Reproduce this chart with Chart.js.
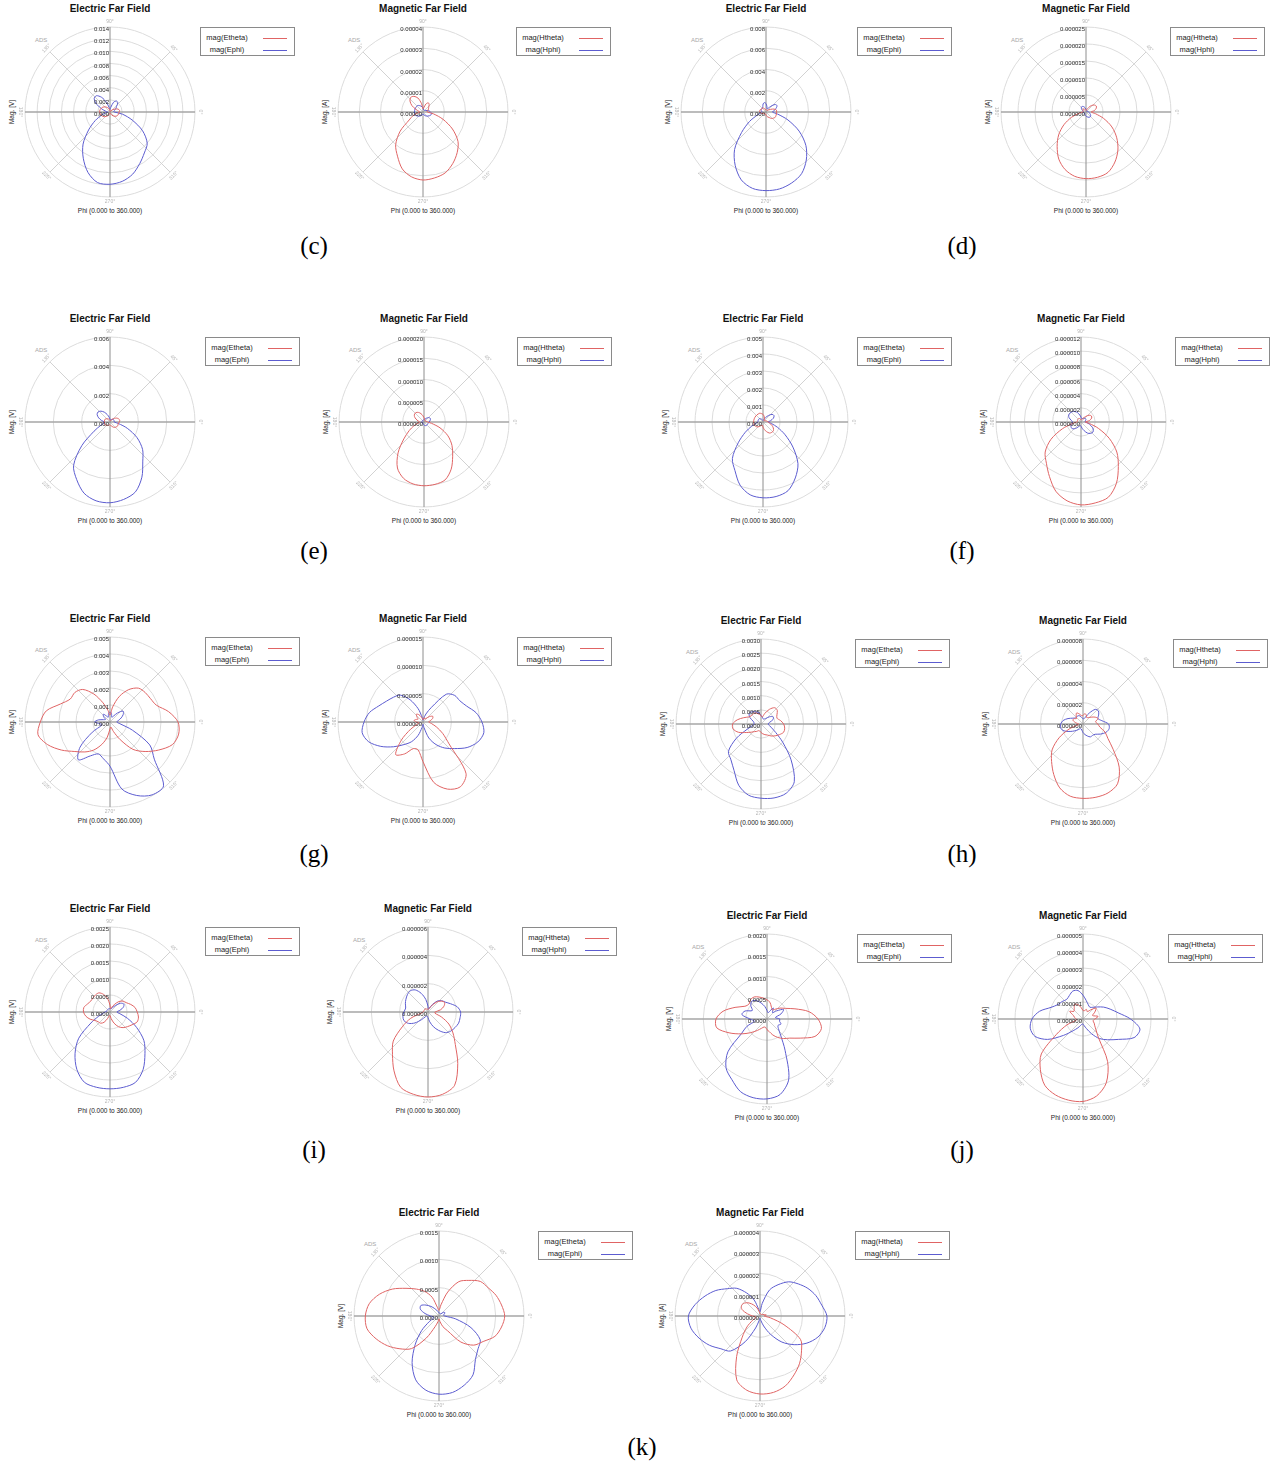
<!DOCTYPE html>
<html>
<head>
<meta charset="utf-8">
<script src="https://cdn.jsdelivr.net/npm/chart.js@4.4.0/dist/chart.umd.min.js"></script>
<style>
html,body{margin:0;padding:0;background:#fff;}
#page{position:relative;width:1275px;height:1464px;overflow:hidden;font-family:"Liberation Sans",Arial,sans-serif;}
.ttl{position:absolute;width:200px;text-align:center;font-weight:bold;font-size:10px;color:#111;line-height:12px;}
.xl{position:absolute;width:160px;text-align:center;font-size:6.5px;color:#222;line-height:8px;}
.yl{position:absolute;width:40px;text-align:center;font-size:6.5px;color:#222;line-height:8px;white-space:nowrap;transform:rotate(-90deg);}
.ads{position:absolute;font-size:6px;color:#a8a8a8;line-height:7px;}
.leg{position:absolute;width:93px;height:27px;border:1px solid #8a8a8a;background:#fff;}
.leg .t{position:absolute;left:1px;width:50px;text-align:center;font-size:7.5px;color:#222;line-height:9px;}
.leg .s{position:absolute;left:62px;width:24px;height:1px;}
.cap{position:absolute;width:60px;text-align:center;font-family:"Liberation Serif","Times New Roman",serif;font-size:25px;line-height:28px;color:#000;}
canvas{position:absolute;}
</style>
</head>
<body>
<div id="page"></div>
<script>
// Far-field magnitudes sampled every 10 degrees of phi (0, 10, ..., 350)
const PHI_DEG = [0,10,20,30,40,50,60,70,80,90,100,110,120,130,140,150,160,170,180,190,200,210,220,230,240,250,260,270,280,290,300,310,320,330,340,350];

// (c)
const cE_theta = [1.5e-3,1.6e-3,1.4e-3,1.0e-3,0.6e-3,0.3e-3,0.15e-3,0.1e-3,0.1e-3,0.15e-3,0.35e-3,0.6e-3,0.85e-3,1.1e-3,1.3e-3,1.5e-3,1.6e-3,1.7e-3,1.7e-3,1.65e-3,1.55e-3,1.4e-3,1.2e-3,0.95e-3,0.7e-3,0.45e-3,0.25e-3,0.15e-3,0.2e-3,0.35e-3,0.6e-3,0.85e-3,1.1e-3,1.3e-3,1.4e-3,1.45e-3];
const cE_phi = [0.7e-3,0.6e-3,0.8e-3,1.1e-3,1.4e-3,2.0e-3,2.1e-3,1.7e-3,0.8e-3,0.4e-3,0.7e-3,1.7e-3,2.8e-3,3.5e-3,3.4e-3,2.5e-3,1.4e-3,0.7e-3,0.4e-3,0.7e-3,1.4e-3,2.8e-3,4.6e-3,6.9e-3,8.8e-3,10.6e-3,11.8e-3,11.9e-3,11.6e-3,10.9e-3,9.8e-3,8.8e-3,8.0e-3,6.2e-3,3.9e-3,2.1e-3];
const cM_theta = [0.2e-5,0.2e-5,0.25e-5,0.3e-5,0.35e-5,0.45e-5,0.5e-5,0.4e-5,0.2e-5,0.15e-5,0.4e-5,0.7e-5,0.85e-5,0.9e-5,0.8e-5,0.6e-5,0.35e-5,0.2e-5,0.15e-5,0.25e-5,0.5e-5,0.75e-5,1.4e-5,2.0e-5,2.4e-5,2.85e-5,3.1e-5,3.2e-5,3.15e-5,3.05e-5,2.8e-5,2.5e-5,2.15e-5,1.6e-5,1.0e-5,0.5e-5];
const cM_phi = [0.35e-5,0.3e-5,0.2e-5,0.15e-5,0.1e-5,0.1e-5,0.1e-5,0.1e-5,0.15e-5,0.2e-5,0.25e-5,0.3e-5,0.35e-5,0.4e-5,0.4e-5,0.4e-5,0.4e-5,0.4e-5,0.4e-5,0.4e-5,0.4e-5,0.35e-5,0.3e-5,0.25e-5,0.2e-5,0.15e-5,0.1e-5,0.1e-5,0.1e-5,0.15e-5,0.2e-5,0.25e-5,0.3e-5,0.35e-5,0.4e-5,0.4e-5];

// (d)
const dE_theta = [1.0e-3,1.0e-3,0.8e-3,0.5e-3,0.3e-3,0.2e-3,0.2e-3,0.2e-3,0.2e-3,0.2e-3,0.2e-3,0.3e-3,0.4e-3,0.5e-3,0.5e-3,0.5e-3,0.6e-3,0.6e-3,0.6e-3,0.5e-3,0.4e-3,0.3e-3,0.2e-3,0.2e-3,0.2e-3,0.2e-3,0.2e-3,0.3e-3,0.4e-3,0.5e-3,0.6e-3,0.8e-3,0.9e-3,1.0e-3,1.0e-3,1.0e-3];
const dE_phi = [0.6e-3,0.8e-3,1.0e-3,1.2e-3,1.1e-3,0.7e-3,0.4e-3,0.3e-3,0.5e-3,0.8e-3,0.9e-3,0.8e-3,0.6e-3,0.5e-3,0.5e-3,0.5e-3,0.5e-3,0.4e-3,0.4e-3,0.5e-3,0.9e-3,1.8e-3,3.0e-3,4.6e-3,5.8e-3,6.8e-3,7.3e-3,7.4e-3,7.35e-3,7.1e-3,6.7e-3,5.9e-3,4.9e-3,3.6e-3,2.2e-3,1.1e-3];
const dM_theta = [1.5e-6,2.5e-6,3.2e-6,3.5e-6,3.2e-6,2.5e-6,1.5e-6,0.8e-6,0.5e-6,0.5e-6,0.6e-6,0.8e-6,1.0e-6,1.2e-6,1.2e-6,1.0e-6,0.8e-6,0.8e-6,1.0e-6,2.0e-6,4.5e-6,7.5e-6,10.5e-6,13.2e-6,16.0e-6,18.0e-6,19.2e-6,19.6e-6,19.5e-6,18.9e-6,17.0e-6,14.6e-6,11.8e-6,8.8e-6,5.5e-6,2.8e-6];
const dM_phi = [0.8e-6,0.6e-6,0.4e-6,0.3e-6,0.3e-6,0.4e-6,0.5e-6,0.5e-6,0.6e-6,0.8e-6,1.2e-6,1.6e-6,1.9e-6,2.0e-6,1.8e-6,1.4e-6,1.0e-6,0.8e-6,0.8e-6,0.8e-6,0.7e-6,0.6e-6,0.5e-6,0.5e-6,0.6e-6,0.8e-6,1.0e-6,1.2e-6,1.4e-6,1.6e-6,1.8e-6,1.9e-6,1.8e-6,1.5e-6,1.2e-6,1.0e-6];

// (e)
const eE_theta = [0.65e-3,0.7e-3,0.65e-3,0.55e-3,0.4e-3,0.25e-3,0.15e-3,0.1e-3,0.1e-3,0.1e-3,0.15e-3,0.2e-3,0.25e-3,0.3e-3,0.35e-3,0.4e-3,0.4e-3,0.4e-3,0.4e-3,0.4e-3,0.4e-3,0.4e-3,0.35e-3,0.3e-3,0.3e-3,0.25e-3,0.2e-3,0.2e-3,0.25e-3,0.3e-3,0.4e-3,0.5e-3,0.55e-3,0.6e-3,0.6e-3,0.6e-3];
const eE_phi = [0.3e-3,0.3e-3,0.3e-3,0.3e-3,0.3e-3,0.25e-3,0.2e-3,0.15e-3,0.15e-3,0.2e-3,0.35e-3,0.55e-3,0.8e-3,1.0e-3,1.1e-3,1.05e-3,0.85e-3,0.6e-3,0.4e-3,0.4e-3,0.7e-3,1.3e-3,2.6e-3,4.0e-3,4.7e-3,5.35e-3,5.65e-3,5.7e-3,5.55e-3,5.25e-3,4.5e-3,3.6e-3,3.0e-3,2.2e-3,1.3e-3,0.6e-3];
const eM_theta = [0.8e-6,0.7e-6,0.5e-6,0.4e-6,0.3e-6,0.3e-6,0.4e-6,0.5e-6,0.7e-6,1.0e-6,1.5e-6,2.1e-6,2.6e-6,2.9e-6,2.9e-6,2.6e-6,2.0e-6,1.4e-6,1.0e-6,1.3e-6,2.5e-6,4.0e-6,6.2e-6,9.5e-6,12.5e-6,14.1e-6,14.8e-6,15.0e-6,14.9e-6,14.5e-6,12.8e-6,10.5e-6,8.6e-6,6.5e-6,4.0e-6,1.8e-6];
const eM_phi = [1.2e-6,1.4e-6,1.6e-6,1.7e-6,1.6e-6,1.3e-6,1.0e-6,0.7e-6,0.5e-6,0.5e-6,0.5e-6,0.5e-6,0.5e-6,0.5e-6,0.5e-6,0.5e-6,0.5e-6,0.5e-6,0.5e-6,0.5e-6,0.4e-6,0.3e-6,0.3e-6,0.3e-6,0.4e-6,0.5e-6,0.6e-6,0.7e-6,0.8e-6,0.9e-6,1.0e-6,1.0e-6,1.0e-6,1.0e-6,1.0e-6,1.1e-6];

// (f)
const fE_theta = [0.3e-3,0.25e-3,0.2e-3,0.15e-3,0.1e-3,0.1e-3,0.15e-3,0.25e-3,0.35e-3,0.45e-3,0.5e-3,0.55e-3,0.55e-3,0.55e-3,0.55e-3,0.55e-3,0.55e-3,0.55e-3,0.55e-3,0.55e-3,0.55e-3,0.5e-3,0.45e-3,0.35e-3,0.25e-3,0.2e-3,0.2e-3,0.3e-3,0.45e-3,0.6e-3,0.75e-3,0.8e-3,0.8e-3,0.7e-3,0.55e-3,0.4e-3];
const fE_phi = [0.3e-3,0.45e-3,0.65e-3,0.75e-3,0.7e-3,0.5e-3,0.3e-3,0.15e-3,0.1e-3,0.1e-3,0.1e-3,0.15e-3,0.2e-3,0.25e-3,0.3e-3,0.3e-3,0.3e-3,0.3e-3,0.3e-3,0.4e-3,0.7e-3,1.2e-3,1.9e-3,2.8e-3,3.3e-3,3.95e-3,4.35e-3,4.46e-3,4.45e-3,4.3e-3,3.8e-3,3.2e-3,2.3e-3,1.5e-3,0.9e-3,0.5e-3];
const fM_theta = [0.6e-6,1.2e-6,1.6e-6,1.7e-6,1.5e-6,1.0e-6,0.6e-6,0.4e-6,0.3e-6,0.3e-6,0.4e-6,0.5e-6,0.6e-6,0.6e-6,0.6e-6,0.6e-6,0.5e-6,0.5e-6,0.6e-6,1.2e-6,2.8e-6,4.9e-6,6.6e-6,7.6e-6,8.9e-6,10.4e-6,11.3e-6,11.7e-6,11.6e-6,11.3e-6,10.0e-6,8.2e-6,6.6e-6,4.6e-6,2.6e-6,1.2e-6];
const fM_phi = [0.6e-6,0.6e-6,0.7e-6,0.8e-6,0.8e-6,0.7e-6,0.6e-6,0.5e-6,0.5e-6,0.7e-6,1.0e-6,1.4e-6,1.7e-6,1.9e-6,2.0e-6,2.0e-6,1.8e-6,1.4e-6,1.2e-6,1.3e-6,1.5e-6,1.6e-6,1.5e-6,1.2e-6,0.8e-6,0.6e-6,0.5e-6,0.6e-6,0.9e-6,1.3e-6,1.8e-6,2.1e-6,2.2e-6,2.0e-6,1.5e-6,1.0e-6];

// (g)
const gE_theta = [4.0e-3,3.5e-3,2.9e-3,2.75e-3,2.7e-3,2.6e-3,2.2e-3,1.6e-3,0.9e-3,0.4e-3,0.7e-3,1.2e-3,1.9e-3,2.5e-3,2.7e-3,2.7e-3,3.1e-3,3.8e-3,4.1e-3,4.3e-3,3.9e-3,3.3e-3,2.7e-3,2.3e-3,1.9e-3,1.4e-3,0.9e-3,0.4e-3,0.3e-3,0.6e-3,1.2e-3,2.1e-3,2.7e-3,3.3e-3,3.9e-3,4.1e-3];
const gE_phi = [0.4e-3,0.5e-3,0.7e-3,0.9e-3,1.0e-3,0.7e-3,0.4e-3,0.3e-3,0.5e-3,0.6e-3,0.5e-3,0.3e-3,0.4e-3,0.6e-3,0.5e-3,0.3e-3,0.4e-3,0.7e-3,0.9e-3,0.6e-3,0.5e-3,1.2e-3,2.3e-3,2.9e-3,2.3e-3,2.0e-3,2.2e-3,2.6e-3,4.0e-3,4.6e-3,4.95e-3,4.9e-3,3.4e-3,2.7e-3,1.4e-3,0.6e-3];
const gM_theta = [1.0e-6,1.3e-6,1.8e-6,2.0e-6,1.5e-6,0.8e-6,0.6e-6,0.8e-6,0.6e-6,0.4e-6,0.6e-6,1.0e-6,1.5e-6,1.8e-6,1.4e-6,1.0e-6,1.3e-6,1.6e-6,1.2e-6,0.7e-6,1.0e-6,2.5e-6,5.0e-6,7.5e-6,6.5e-6,5.0e-6,5.0e-6,7.0e-6,10.8e-6,12.6e-6,13.2e-6,11.8e-6,6.0e-6,4.0e-6,2.5e-6,1.5e-6];
const gM_phi = [10.4e-6,9.5e-6,8.2e-6,7.5e-6,7.3e-6,6.4e-6,3.0e-6,1.5e-6,0.6e-6,0.3e-6,0.8e-6,2.5e-6,4.5e-6,6.2e-6,6.8e-6,7.4e-6,8.3e-6,9.6e-6,10.4e-6,10.9e-6,10.2e-6,8.6e-6,6.8e-6,5.2e-6,4.0e-6,2.5e-6,1.0e-6,0.4e-6,1.0e-6,3.0e-6,4.6e-6,6.0e-6,7.3e-6,9.0e-6,10.3e-6,10.9e-6];

// (h)
const hE_theta = [0.8e-3,0.7e-3,0.6e-3,0.65e-3,0.75e-3,0.75e-3,0.6e-3,0.4e-3,0.25e-3,0.3e-3,0.35e-3,0.4e-3,0.45e-3,0.45e-3,0.45e-3,0.5e-3,0.65e-3,0.85e-3,1.0e-3,1.0e-3,0.85e-3,0.6e-3,0.45e-3,0.35e-3,0.3e-3,0.25e-3,0.25e-3,0.3e-3,0.35e-3,0.4e-3,0.45e-3,0.55e-3,0.65e-3,0.75e-3,0.85e-3,0.85e-3];
const hE_phi = [0.25e-3,0.3e-3,0.45e-3,0.5e-3,0.4e-3,0.25e-3,0.2e-3,0.2e-3,0.25e-3,0.3e-3,0.4e-3,0.45e-3,0.5e-3,0.55e-3,0.55e-3,0.45e-3,0.3e-3,0.25e-3,0.25e-3,0.3e-3,0.5e-3,1.0e-3,1.5e-3,1.65e-3,1.9e-3,2.3e-3,2.55e-3,2.62e-3,2.65e-3,2.6e-3,2.35e-3,1.65e-3,1.0e-3,0.6e-3,0.4e-3,0.3e-3];
const hM_theta = [1.4e-6,1.2e-6,1.5e-6,1.3e-6,1.0e-6,0.8e-6,0.7e-6,0.9e-6,1.0e-6,0.8e-6,0.8e-6,1.0e-6,1.2e-6,1.0e-6,0.8e-6,1.0e-6,1.0e-6,0.7e-6,0.4e-6,0.5e-6,1.4e-6,2.6e-6,3.8e-6,4.6e-6,5.5e-6,6.4e-6,6.9e-6,7.0e-6,7.0e-6,6.9e-6,6.5e-6,5.3e-6,3.7e-6,2.7e-6,2.2e-6,1.6e-6];
const hM_phi = [2.4e-6,1.8e-6,1.5e-6,1.7e-6,1.9e-6,1.8e-6,1.2e-6,0.7e-6,0.5e-6,0.5e-6,0.6e-6,0.8e-6,0.9e-6,0.9e-6,0.9e-6,1.1e-6,1.5e-6,1.9e-6,2.1e-6,2.15e-6,1.9e-6,1.4e-6,1.0e-6,0.7e-6,0.5e-6,0.5e-6,0.6e-6,0.8e-6,1.0e-6,1.2e-6,1.4e-6,1.4e-6,1.5e-6,1.9e-6,2.3e-6,2.5e-6];

// (i)
const iE_theta = [0.8e-3,0.75e-3,0.65e-3,0.55e-3,0.5e-3,0.4e-3,0.25e-3,0.15e-3,0.1e-3,0.2e-3,0.4e-3,0.55e-3,0.65e-3,0.66e-3,0.65e-3,0.65e-3,0.7e-3,0.78e-3,0.78e-3,0.72e-3,0.62e-3,0.5e-3,0.45e-3,0.43e-3,0.35e-3,0.2e-3,0.1e-3,0.1e-3,0.2e-3,0.35e-3,0.5e-3,0.6e-3,0.67e-3,0.75e-3,0.85e-3,0.85e-3];
const iE_phi = [0.2e-3,0.3e-3,0.42e-3,0.47e-3,0.4e-3,0.25e-3,0.15e-3,0.1e-3,0.1e-3,0.1e-3,0.1e-3,0.1e-3,0.1e-3,0.1e-3,0.1e-3,0.1e-3,0.1e-3,0.1e-3,0.15e-3,0.2e-3,0.35e-3,0.65e-3,1.2e-3,1.6e-3,1.95e-3,2.2e-3,2.25e-3,2.26e-3,2.25e-3,2.2e-3,1.95e-3,1.6e-3,1.3e-3,0.9e-3,0.55e-3,0.3e-3];
const iM_theta = [0.5e-6,0.9e-6,1.2e-6,1.35e-6,1.2e-6,0.9e-6,0.5e-6,0.3e-6,0.2e-6,0.2e-6,0.2e-6,0.2e-6,0.25e-6,0.3e-6,0.3e-6,0.3e-6,0.3e-6,0.3e-6,0.35e-6,0.5e-6,1.3e-6,2.1e-6,3.2e-6,3.9e-6,4.8e-6,5.65e-6,5.9e-6,6.0e-6,5.9e-6,5.5e-6,4.2e-6,3.0e-6,2.3e-6,1.7e-6,1.0e-6,0.5e-6];
const iM_phi = [2.3e-6,2.1e-6,1.7e-6,1.4e-6,1.25e-6,1.0e-6,0.6e-6,0.3e-6,0.2e-6,0.4e-6,0.9e-6,1.4e-6,1.8e-6,1.95e-6,1.9e-6,1.8e-6,1.7e-6,1.6e-6,1.7e-6,1.8e-6,1.8e-6,1.6e-6,1.2e-6,0.7e-6,0.4e-6,0.3e-6,0.3e-6,0.4e-6,0.7e-6,1.1e-6,1.5e-6,1.9e-6,2.1e-6,2.2e-6,2.3e-6,2.3e-6];

// (j)
const jE_theta = [1.2e-3,1.0e-3,0.7e-3,0.5e-3,0.4e-3,0.3e-3,0.25e-3,0.3e-3,0.4e-3,0.45e-3,0.5e-3,0.55e-3,0.6e-3,0.6e-3,0.55e-3,0.6e-3,0.8e-3,1.05e-3,1.2e-3,1.2e-3,0.95e-3,0.7e-3,0.5e-3,0.35e-3,0.25e-3,0.2e-3,0.2e-3,0.25e-3,0.3e-3,0.4e-3,0.5e-3,0.6e-3,0.7e-3,0.9e-3,1.2e-3,1.3e-3];
const jE_phi = [0.3e-3,0.2e-3,0.35e-3,0.45e-3,0.3e-3,0.2e-3,0.3e-3,0.2e-3,0.15e-3,0.2e-3,0.3e-3,0.4e-3,0.5e-3,0.55e-3,0.5e-3,0.4e-3,0.55e-3,0.6e-3,0.4e-3,0.3e-3,0.5e-3,0.7e-3,1.2e-3,1.5e-3,1.65e-3,1.82e-3,1.88e-3,1.88e-3,1.8e-3,1.5e-3,0.85e-3,0.5e-3,0.35e-3,0.3e-3,0.35e-3,0.3e-3];
const jM_theta = [0.7e-6,0.9e-6,0.6e-6,0.8e-6,1.0e-6,0.7e-6,0.5e-6,0.6e-6,0.5e-6,0.5e-6,0.7e-6,0.9e-6,1.0e-6,0.8e-6,0.7e-6,0.9e-6,0.6e-6,0.5e-6,0.4e-6,0.4e-6,1.0e-6,1.8e-6,3.2e-6,3.9e-6,4.5e-6,4.75e-6,4.85e-6,4.85e-6,4.6e-6,4.0e-6,2.9e-6,1.4e-6,1.0e-6,0.8e-6,0.7e-6,0.6e-6];
const jM_phi = [2.8e-6,2.1e-6,1.7e-6,1.4e-6,1.1e-6,0.9e-6,0.8e-6,0.9e-6,1.1e-6,1.4e-6,1.7e-6,1.75e-6,1.6e-6,1.5e-6,1.6e-6,1.7e-6,2.0e-6,2.6e-6,3.0e-6,3.15e-6,3.0e-6,2.4e-6,1.5e-6,0.9e-6,0.6e-6,0.4e-6,0.3e-6,0.3e-6,0.4e-6,0.6e-6,1.0e-6,1.5e-6,1.9e-6,2.4e-6,3.2e-6,3.4e-6];

// (k)
const kE_theta = [1.16e-3,1.12e-3,1.07e-3,1.0e-3,0.95e-3,0.82e-3,0.7e-3,0.45e-3,0.2e-3,0.1e-3,0.15e-3,0.35e-3,0.5e-3,0.62e-3,0.76e-3,0.95e-3,1.12e-3,1.25e-3,1.3e-3,1.29e-3,1.18e-3,1.05e-3,0.9e-3,0.75e-3,0.45e-3,0.2e-3,0.1e-3,0.05e-3,0.1e-3,0.2e-3,0.3e-3,0.6e-3,0.8e-3,0.9e-3,1.05e-3,1.12e-3];
const kE_phi = [0.1e-3,0.08e-3,0.1e-3,0.12e-3,0.1e-3,0.05e-3,0.05e-3,0.05e-3,0.05e-3,0.05e-3,0.08e-3,0.1e-3,0.15e-3,0.22e-3,0.3e-3,0.37e-3,0.35e-3,0.25e-3,0.15e-3,0.1e-3,0.1e-3,0.2e-3,0.4e-3,0.65e-3,0.95e-3,1.2e-3,1.33e-3,1.38e-3,1.37e-3,1.3e-3,1.2e-3,1.0e-3,0.9e-3,0.84e-3,0.6e-3,0.3e-3];
const kM_theta = [0.2e-6,0.3e-6,0.2e-6,0.15e-6,0.1e-6,0.1e-6,0.1e-6,0.1e-6,0.1e-6,0.1e-6,0.2e-6,0.4e-6,0.6e-6,0.8e-6,0.95e-6,1.0e-6,0.9e-6,0.6e-6,0.35e-6,0.2e-6,0.2e-6,0.4e-6,0.8e-6,1.3e-6,2.2e-6,3.2e-6,3.55e-6,3.67e-6,3.65e-6,3.5e-6,3.2e-6,2.9e-6,2.55e-6,2.2e-6,1.2e-6,0.5e-6];
const kM_phi = [3.15e-6,2.95e-6,2.8e-6,2.6e-6,2.35e-6,2.1e-6,1.7e-6,1.3e-6,0.6e-6,0.2e-6,0.3e-6,0.8e-6,1.25e-6,1.7e-6,2.0e-6,2.4e-6,2.75e-6,3.1e-6,3.37e-6,3.3e-6,3.05e-6,2.75e-6,2.4e-6,2.15e-6,1.4e-6,0.6e-6,0.2e-6,0.1e-6,0.2e-6,0.5e-6,1.0e-6,1.6e-6,2.1e-6,2.55e-6,2.9e-6,3.1e-6];

// Radial axis: top value, ring spacing and label decimals for each plot
const AXIS_MAX  = {cE:0.014, cM:0.00004, dE:0.008, dM:0.000025, eE:0.006, eM:0.000020, fE:0.005, fM:0.000012, gE:0.005, gM:0.000015, hE:0.0030, hM:0.000008, iE:0.0025, iM:0.000006, jE:0.0020, jM:0.000005, kE:0.0015, kM:0.000004};
const AXIS_STEP = {cE:0.002, cM:0.00001, dE:0.002, dM:0.000005, eE:0.002, eM:0.000005, fE:0.001, fM:0.000002, gE:0.001, gM:0.000005, hE:0.0005, hM:0.000002, iE:0.0005, iM:0.000002, jE:0.0005, jM:0.000001, kE:0.0005, kM:0.000001};
const AXIS_DEC  = {cE:3, cM:5, dE:3, dM:6, eE:3, eM:6, fE:3, fM:6, gE:3, gM:6, hE:4, hM:6, iE:4, iM:6, jE:4, jM:6, kE:4, kM:6};

const ANGLE_MARKS = [0,45,90,135,180,225,270,315];
const CAPTIONS = ['(c)','(d)','(e)','(f)','(g)','(h)','(i)','(j)','(k)'];

const SERIES = {
  cE:[cE_theta,cE_phi], cM:[cM_theta,cM_phi], dE:[dE_theta,dE_phi], dM:[dM_theta,dM_phi],
  eE:[eE_theta,eE_phi], eM:[eM_theta,eM_phi], fE:[fE_theta,fE_phi], fM:[fM_theta,fM_phi],
  gE:[gE_theta,gE_phi], gM:[gM_theta,gM_phi], hE:[hE_theta,hE_phi], hM:[hM_theta,hM_phi],
  iE:[iE_theta,iE_phi], iM:[iM_theta,iM_phi], jE:[jE_theta,jE_phi], jM:[jM_theta,jM_phi],
  kE:[kE_theta,kE_phi], kM:[kM_theta,kM_phi]
};

// Page layout: plot centre and legend left edge
const LAYOUT = [
  ['cE',110,112,200], ['cM',423,112,516], ['dE',766,112,857], ['dM',1086,112,1170],
  ['eE',110,422,205], ['eM',424,422,517], ['fE',763,422,857], ['fM',1081,422,1175],
  ['gE',110,722,205], ['gM',423,722,517], ['hE',761,724,855], ['hM',1083,724,1173],
  ['iE',110,1012,205], ['iM',428,1012,522], ['jE',767,1019,857], ['jM',1083,1019,1168],
  ['kE',439,1316,538], ['kM',760,1316,855]
];
const CAP_POS = [[314,246],[962,246],[314,551],[962,551],[314,854],[962,854],[314,1150],[962,1150],[642,1447]];

const RED = '#e06464', BLUE = '#5c5cd0';
const R = 85, PAD = 14;

// Radar spokes run clockwise from the top; phi runs counter-clockwise from the right.
const SPOKE_PHI = PHI_DEG.map((_, i) => (450 - 10 * i) % 360);
function toSpokes(arr) { return SPOKE_PHI.map(p => arr[PHI_DEG.indexOf(p)]); }

const adsPolar = {
  id: 'adsPolar',
  beforeDatasetsDraw(chart) {
    const s = chart.scales.r, ctx = chart.ctx;
    const x0 = s.xCenter, y0 = s.yCenter, r = s.drawingArea;
    ctx.save();
    ctx.strokeStyle = '#d2d2d2'; ctx.lineWidth = 1;
    ctx.beginPath();
    ANGLE_MARKS.filter(a => a % 90).forEach(a => {
      const t = a * Math.PI / 180;
      ctx.moveTo(x0, y0);
      ctx.lineTo(x0 + r * Math.cos(t), y0 - r * Math.sin(t));
    });
    ctx.stroke();
    ctx.strokeStyle = '#a6a6a6'; ctx.lineWidth = 1.6;
    ctx.beginPath(); ctx.moveTo(x0 - r, y0); ctx.lineTo(x0 + r, y0); ctx.stroke();
    ctx.strokeStyle = '#8e8e8e'; ctx.lineWidth = 1;
    ctx.beginPath(); ctx.moveTo(x0, y0 - r); ctx.lineTo(x0, y0 + r); ctx.stroke();
    // angle marks, set along the rim
    ctx.fillStyle = '#b4b4b4';
    ctx.font = '5px "Liberation Sans", Arial, sans-serif';
    ctx.textAlign = 'center'; ctx.textBaseline = 'middle';
    ANGLE_MARKS.forEach(a => {
      const t = a * Math.PI / 180;
      let rot = 90 - a;
      while (rot > 90) rot -= 180;
      while (rot <= -90) rot += 180;
      ctx.save();
      ctx.translate(x0 + (r + 5) * Math.cos(t), y0 - (r + 5) * Math.sin(t));
      ctx.rotate(rot * Math.PI / 180);
      ctx.fillText(a + '\u00B0', 0, 0);
      ctx.restore();
    });
    ctx.restore();
  },
  afterDatasetsDraw(chart, args, opts) {
    const s = chart.scales.r, ctx = chart.ctx;
    ctx.save();
    ctx.fillStyle = '#2a2a2a';
    ctx.font = '6px "Liberation Sans", Arial, sans-serif';
    ctx.textAlign = 'right'; ctx.textBaseline = 'middle';
    s.ticks.forEach(t => {
      const d = s.getDistanceFromCenterForValue(t.value);
      ctx.fillText(t.value.toFixed(opts.dec), s.xCenter - 1, s.yCenter - d + 2.5);
    });
    ctx.restore();
  }
};

const page = document.getElementById('page');
function addDiv(cls, text, css) {
  const d = document.createElement('div');
  d.className = cls;
  if (text !== null) d.textContent = text;
  Object.assign(d.style, css);
  page.appendChild(d);
  return d;
}

LAYOUT.forEach(([key, cx, cy, lx]) => {
  const electric = key.endsWith('E');
  const names = electric ? ['mag(Etheta)', 'mag(Ephi)'] : ['mag(Htheta)', 'mag(Hphi)'];

  addDiv('ttl', electric ? 'Electric Far Field' : 'Magnetic Far Field', {left: (cx - 100) + 'px', top: (cy - 109) + 'px'});
  addDiv('xl', 'Phi (0.000 to 360.000)', {left: (cx - 80) + 'px', top: (cy + 95) + 'px'});
  addDiv('yl', electric ? 'Mag. [V]' : 'Mag. [A]', {left: (cx - 118) + 'px', top: (cy - 4) + 'px'});
  addDiv('ads', 'ADS', {left: (cx - 75) + 'px', top: (cy - 75) + 'px'});

  const leg = addDiv('leg', null, {left: lx + 'px', top: (cy - 85) + 'px'});
  [[names[0], RED, 5], [names[1], BLUE, 17]].forEach(([txt, col, y]) => {
    const t = document.createElement('div'); t.className = 't'; t.textContent = txt; t.style.top = y + 'px';
    const s = document.createElement('div'); s.className = 's'; s.style.top = (y + 5) + 'px'; s.style.background = col;
    leg.appendChild(t); leg.appendChild(s);
  });

  const size = 2 * (R + PAD);
  const cv = document.createElement('canvas');
  cv.width = size; cv.height = size;
  cv.style.width = size + 'px'; cv.style.height = size + 'px';
  cv.style.left = (cx - R - PAD) + 'px'; cv.style.top = (cy - R - PAD) + 'px';
  page.appendChild(cv);

  const [theta, phi] = SERIES[key];
  new Chart(cv, {
    type: 'radar',
    data: {
      labels: SPOKE_PHI.map(String),
      datasets: [
        {label: names[0], data: toSpokes(theta), borderColor: RED, borderWidth: 1, pointRadius: 0, fill: false, tension: 0.3},
        {label: names[1], data: toSpokes(phi), borderColor: BLUE, borderWidth: 1, pointRadius: 0, fill: false, tension: 0.3}
      ]
    },
    options: {
      responsive: false, animation: false, devicePixelRatio: 1,
      layout: {padding: PAD},
      plugins: {legend: {display: false}, tooltip: {enabled: false}, adsPolar: {dec: AXIS_DEC[key]}},
      scales: {
        r: {
          min: 0, max: AXIS_MAX[key],
          ticks: {display: false, stepSize: AXIS_STEP[key]},
          pointLabels: {display: false},
          angleLines: {display: false},
          grid: {color: '#dcdcdc', lineWidth: 1, circular: true}
        }
      }
    },
    plugins: [adsPolar]
  });
});

CAPTIONS.forEach((c, i) => {
  addDiv('cap', c, {left: (CAP_POS[i][0] - 30) + 'px', top: (CAP_POS[i][1] - 14) + 'px'});
});
</script>
</body>
</html>
